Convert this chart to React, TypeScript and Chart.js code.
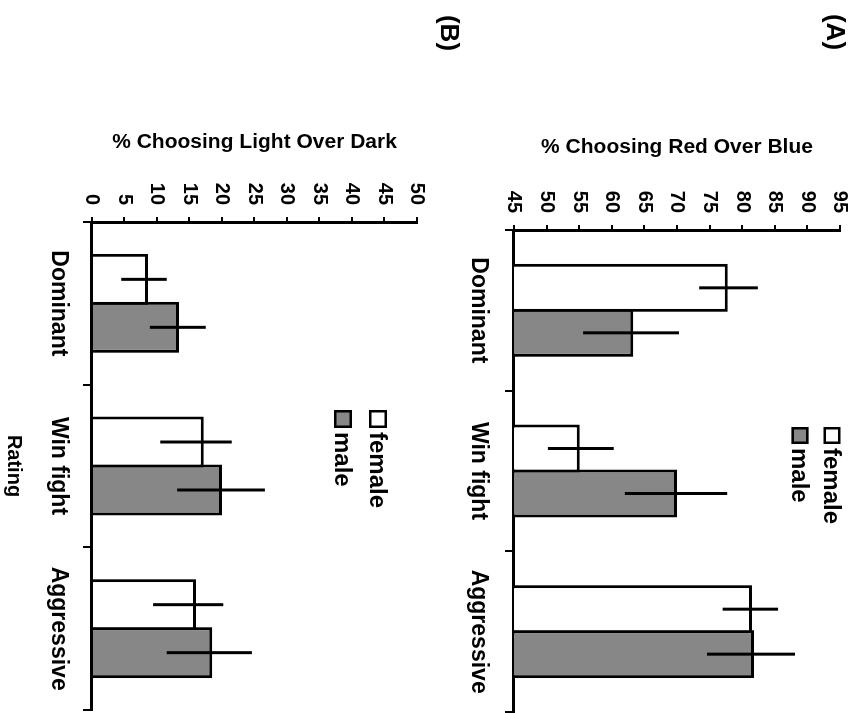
import React, { useEffect, useRef } from 'react';
import { Chart, registerables } from 'chart.js';

Chart.register(...registerables);

// ---------- data ----------
const categories = ['Dominant', 'Win fight', 'Aggressive'];
const seriesNames = ['female', 'male'];

// Panel A: % choosing red over blue
const redFemale = [77.8, 55.1, 81.5];
const redMale = [63.3, 70.0, 81.8];
const redFemaleLow = [73.4, 50.2, 77.0];
const redFemaleHigh = [82.4, 60.3, 85.5];
const redMaleLow = [55.6, 62.0, 74.6];
const redMaleHigh = [70.3, 77.7, 88.1];
const redAxis = [45, 95, 5]; // min, max, step

// Panel B: % choosing light over dark
const lightFemale = [8.6, 17.2, 16.0];
const lightMale = [13.4, 20.0, 18.5];
const lightFemaleLow = [4.5, 10.5, 9.4];
const lightFemaleHigh = [11.5, 21.5, 20.2];
const lightMaleLow = [8.9, 13.1, 11.5];
const lightMaleHigh = [17.5, 26.6, 24.6];
const lightAxis = [0, 50, 5];

const FONT = "Arial, 'Liberation Sans', Helvetica, sans-serif";
const FEMALE_FILL = '#ffffff';
const MALE_FILL = '#878787';

// ---------- plugins ----------
const errorBarPlugin = {
  id: 'errorBars',
  afterDatasetsDraw(chart: any, _args: any, opts: any) {
    const ctx = chart.ctx;
    const yScale = chart.scales.y;
    chart.data.datasets.forEach((ds: any, i: number) => {
      const meta = chart.getDatasetMeta(i);
      meta.data.forEach((bar: any, j: number) => {
        const lo = ds.errLow[j];
        const hi = ds.errHigh[j];
        ctx.save();
        ctx.strokeStyle = opts.color || '#000';
        ctx.lineWidth = opts.width || 3;
        ctx.beginPath();
        ctx.moveTo(bar.x, yScale.getPixelForValue(lo));
        ctx.lineTo(bar.x, yScale.getPixelForValue(hi));
        ctx.stroke();
        ctx.restore();
      });
    });
  },
};

const boxLegendPlugin = {
  id: 'boxLegend',
  afterDraw(chart: any, _args: any, opts: any) {
    const ctx = chart.ctx;
    chart.data.datasets.forEach((ds: any, i: number) => {
      const cy = opts.y + i * opts.gap;
      const b = opts.box;
      ctx.save();
      ctx.fillStyle = ds.backgroundColor;
      ctx.fillRect(opts.x, cy - b / 2, b, b);
      ctx.lineWidth = 2.5;
      ctx.strokeStyle = '#000';
      ctx.strokeRect(opts.x + 1.25, cy - b / 2 + 1.25, b - 2.5, b - 2.5);
      ctx.fillStyle = '#000';
      ctx.font = `bold ${opts.fontSize}px ${FONT}`;
      ctx.textAlign = 'left';
      ctx.textBaseline = 'middle';
      ctx.fillText(ds.label, opts.textX, cy + 1);
      ctx.restore();
    });
  },
};

const panelTagPlugin = {
  id: 'panelTag',
  afterDraw(chart: any, _args: any, opts: any) {
    const ctx = chart.ctx;
    ctx.save();
    ctx.fillStyle = '#000';
    ctx.font = `bold ${opts.fontSize}px ${FONT}`;
    ctx.textAlign = 'center';
    ctx.textBaseline = 'middle';
    ctx.fillText(opts.text, opts.x, opts.y);
    ctx.restore();
  },
};

// ---------- config builder ----------
function buildConfig(p: any) {
  const mk = (label: string, data: number[], lo: number[], hi: number[], fill: string) => ({
    label,
    data,
    errLow: lo,
    errHigh: hi,
    backgroundColor: fill,
    borderColor: '#000',
    borderWidth: 3,
    borderSkipped: 'start',
    categoryPercentage: p.catPct,
    barPercentage: p.barPct,
  });
  return {
    type: 'bar',
    data: {
      labels: categories,
      datasets: [
        mk(seriesNames[0], p.female, p.femaleLow, p.femaleHigh, FEMALE_FILL),
        mk(seriesNames[1], p.male, p.maleLow, p.maleHigh, MALE_FILL),
      ],
    },
    plugins: [errorBarPlugin, boxLegendPlugin, panelTagPlugin],
    options: {
      responsive: false,
      animation: false,
      devicePixelRatio: 1,
      layout: { padding: { top: p.padTop, right: p.padRight, left: 0, bottom: 0 } },
      plugins: {
        legend: { display: false },
        tooltip: { enabled: false },
        errorBars: { color: '#000', width: 3 },
        boxLegend: p.legend,
        panelTag: p.tag,
      },
      scales: {
        x: {
          type: 'category',
          offset: true,
          grid: {
            display: true,
            drawOnChartArea: false,
            drawTicks: true,
            tickLength: 9,
            color: '#000',
            lineWidth: 2,
            offset: true,
          },
          border: { display: true, color: '#000', width: 3 },
          ticks: {
            color: '#000',
            font: { family: FONT, size: 23, weight: 'bold', lineHeight: 1 },
            padding: p.catPad,
            maxRotation: 0,
            minRotation: 0,
            autoSkip: false,
          },
          title: p.xTitle
            ? {
                display: true,
                text: p.xTitle,
                color: '#000',
                font: { family: FONT, size: 20, weight: 'bold', lineHeight: 1 },
                padding: { top: 0, bottom: 4 },
              }
            : { display: false },
          afterFit: (s: any) => {
            s.height = p.xHeight;
            s.paddingLeft = 0;
            s.paddingRight = 0;
          },
        },
        y: {
          min: p.axis[0],
          max: p.axis[1],
          ticks: {
            stepSize: p.axis[2],
            color: '#000',
            font: { family: FONT, size: 20, weight: 'bold', lineHeight: 1 },
            padding: 12,
          },
          grid: {
            display: true,
            drawOnChartArea: false,
            drawTicks: true,
            tickLength: 5,
            color: '#000',
            lineWidth: 2,
          },
          border: { display: true, color: '#000', width: 3 },
          title: {
            display: true,
            text: p.yTitle,
            color: '#000',
            font: { family: FONT, size: 21, weight: 'bold', lineHeight: 1 },
            padding: { top: p.yTitlePad, bottom: 0 },
          },
          afterFit: (s: any) => {
            s.width = p.yWidth;
            s.paddingTop = 0;
            s.paddingBottom = 0;
          },
        },
      },
    },
  };
}

const panelA = {
  female: redFemale,
  male: redMale,
  femaleLow: redFemaleLow,
  femaleHigh: redFemaleHigh,
  maleLow: redMaleLow,
  maleHigh: redMaleHigh,
  axis: redAxis,
  yTitle: '% Choosing Red Over Blue',
  xTitle: '',
  padTop: 12,
  padRight: 1,
  yWidth: 230,
  xHeight: 50,
  catPad: 15,
  yTitlePad: 137,
  catPct: 0.56,
  barPct: 1.067,
  legend: { x: 427, y: 20, gap: 32, box: 17, textX: 448, fontSize: 24 },
  tag: { text: '(A)', x: 32, y: 18, fontSize: 26 },
};

const panelB = {
  female: lightFemale,
  male: lightMale,
  femaleLow: lightFemaleLow,
  femaleHigh: lightFemaleHigh,
  maleLow: lightMaleLow,
  maleHigh: lightMaleHigh,
  axis: lightAxis,
  yTitle: '% Choosing Light Over Dark',
  xTitle: 'Rating',
  padTop: 47,
  padRight: 3,
  yWidth: 222,
  xHeight: 92,
  catPad: 13,
  yTitlePad: 132,
  catPct: 0.59,
  barPct: 1.0625,
  legend: { x: 410, y: 86, gap: 35, box: 18, textX: 432, fontSize: 24 },
  tag: { text: '(B)', x: 33, y: 16, fontSize: 26 },
};

export default function App() {
  const refA = useRef<HTMLCanvasElement>(null);
  const refB = useRef<HTMLCanvasElement>(null);

  useEffect(() => {
    document.body.style.margin = '0';
    document.body.style.overflow = 'hidden';
    const a = new Chart(refA.current as HTMLCanvasElement, buildConfig(panelA) as any);
    const b = new Chart(refB.current as HTMLCanvasElement, buildConfig(panelB) as any);
    return () => {
      a.destroy();
      b.destroy();
    };
  }, []);

  return (
    <div
      style={{
        position: 'absolute',
        left: 0,
        top: 0,
        width: 713,
        height: 852,
        background: '#fff',
        transformOrigin: '0 0',
        transform: 'translateX(852px) rotate(90deg)',
      }}
    >
      <canvas ref={refA} width={713} height={388} style={{ display: 'block', width: 713, height: 388 }} />
      <canvas ref={refB} width={713} height={464} style={{ display: 'block', width: 713, height: 464 }} />
    </div>
  );
}
